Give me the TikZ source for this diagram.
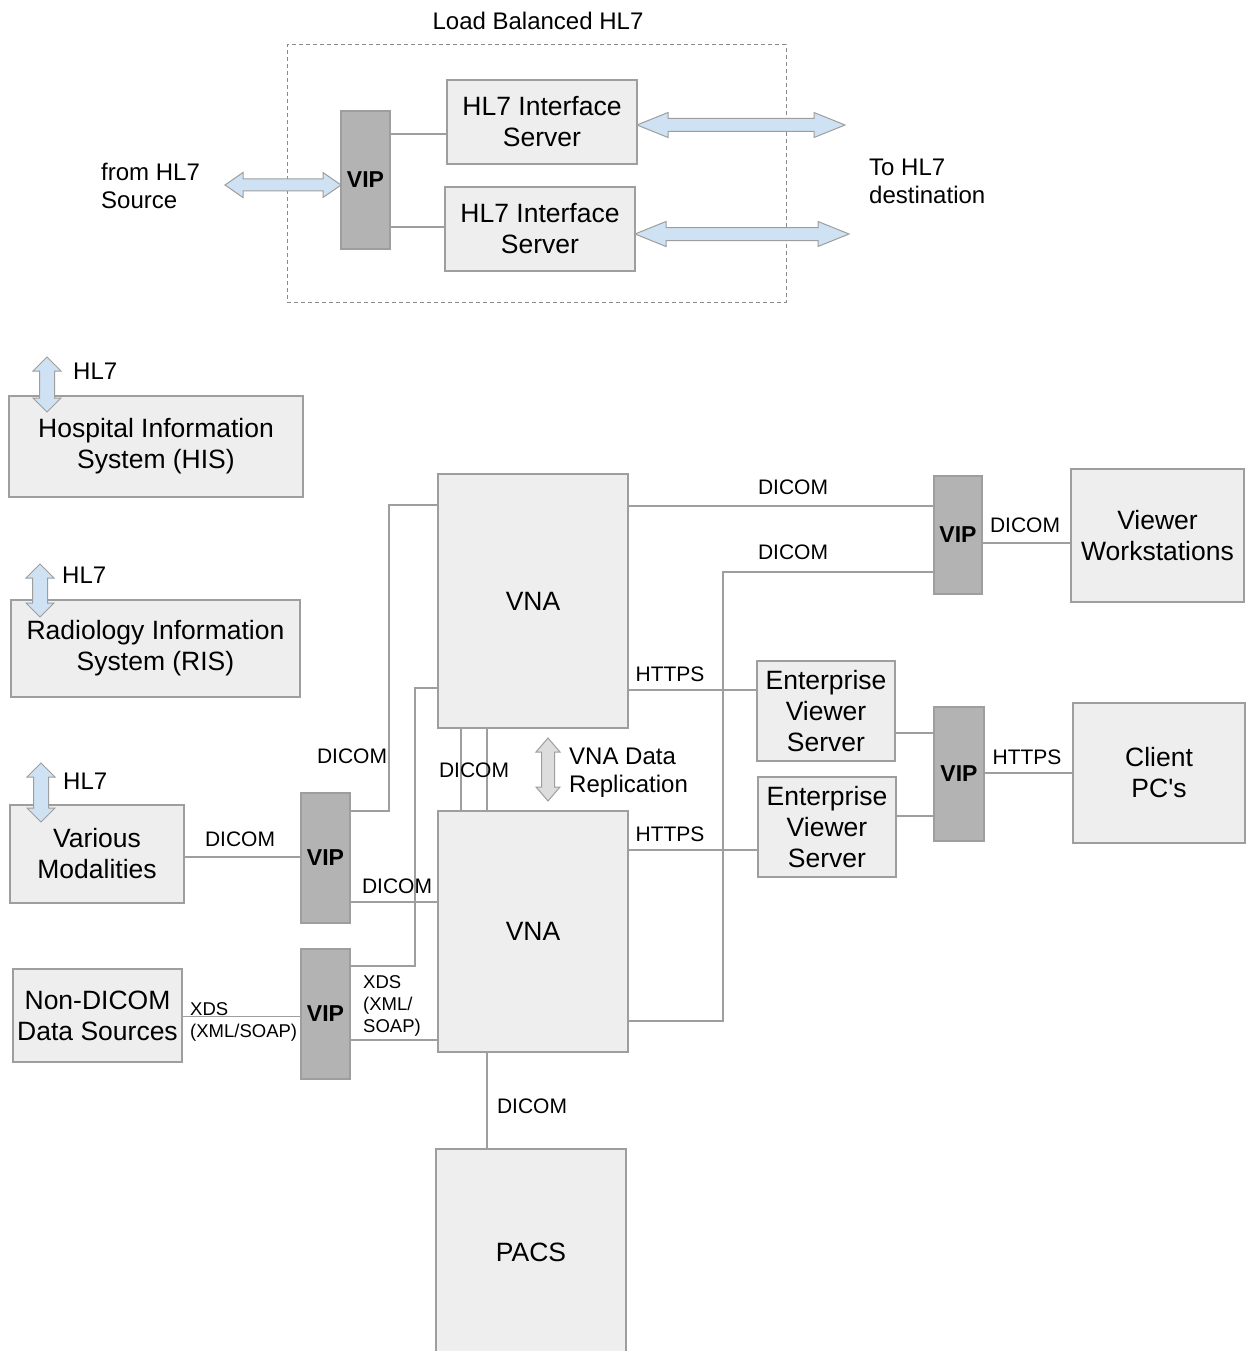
\documentclass[tikz,border=0pt]{standalone}
\usepackage{fontspec}
\setmainfont{Liberation Sans}
\definecolor{boxfill}{HTML}{EEEEEE}
\definecolor{boxline}{HTML}{9E9E9E}
\definecolor{vipfill}{HTML}{B3B3B3}
\definecolor{arrowblue}{HTML}{CFE2F3}
\definecolor{arrowgray}{HTML}{DDDDDD}
\definecolor{dashline}{HTML}{8A8A8A}
\newcommand{\hfatarrow}[7]{%
  \draw[#7] (#1,#3) -- ({#1+#4},{#3-#5}) -- ({#1+#4},{#3-#6}) -- ({#2-#4},{#3-#6}) -- ({#2-#4},{#3-#5}) -- (#2,#3)
   -- ({#2-#4},{#3+#5}) -- ({#2-#4},{#3+#6}) -- ({#1+#4},{#3+#6}) -- ({#1+#4},{#3+#5}) -- cycle;}
\newcommand{\vfatarrow}[7]{%
  \draw[#7] (#3,#1) -- ({#3-#5},{#1+#4}) -- ({#3-#6},{#1+#4}) -- ({#3-#6},{#2-#4}) -- ({#3-#5},{#2-#4}) -- (#3,#2)
   -- ({#3+#5},{#2-#4}) -- ({#3+#6},{#2-#4}) -- ({#3+#6},{#1+#4}) -- ({#3+#5},{#1+#4}) -- cycle;}
\begin{document}
\begin{tikzpicture}[x=1pt,y=-1pt,
  box/.style={draw=boxline, fill=boxfill, line width=1.2pt, inner sep=0pt, align=center,
     font=\fontsize{26.5}{31}\selectfont},
  vip/.style={draw=boxline, fill=vipfill, line width=1.2pt, inner sep=0pt,
     font=\fontsize{23}{27}\selectfont\bfseries},
  conn/.style={draw=boxline, line width=1.2pt},
  lbl/.style={inner sep=0pt, font=\fontsize{21}{25}\selectfont},
  biglbl/.style={inner sep=0pt, align=left, font=\fontsize{24}{28}\selectfont},
  smalllbl/.style={inner sep=0pt, align=left, font=\fontsize{18.5}{22}\selectfont},
  bluearrow/.style={draw=boxline, fill=arrowblue, line width=1pt, line join=miter},
  grayarrow/.style={draw=boxline, fill=arrowgray, line width=1pt, line join=miter}
]
\useasboundingbox (0,0) rectangle (1246,1351);
\fill[white] (0,0) rectangle (1246,1351);

% ---------- Load balanced HL7 ----------
\node[biglbl] (lbtitle) at (538,21) {Load Balanced HL7};
\node[draw=dashline, line width=1pt, dash pattern=on 4pt off 3pt, minimum width=499, minimum height=257, inner sep=0pt] (lb) at (536.5,173.5) {};
\node[vip, minimum width=49, minimum height=138] (vipT) at (365.5,180) {VIP};
\node[box, minimum width=190, minimum height=84] (hl7s1) at (542,122) {HL7 Interface\\Server};
\node[box, minimum width=190, minimum height=84] (hl7s2) at (540,229) {HL7 Interface\\Server};
\draw[conn] (vipT.east |- 0,134) -- (hl7s1.west |- 0,134);
\draw[conn] (vipT.east |- 0,227) -- (hl7s2.west |- 0,227);
\hfatarrow{225}{341}{185}{18}{12.5}{6}{bluearrow}
\hfatarrow{637}{845}{125}{31}{12.5}{6.5}{bluearrow}
\hfatarrow{635}{849}{234}{31}{12.5}{6.5}{bluearrow}
\node[biglbl, anchor=west] (fromsrc) at (101,186) {from HL7\\Source};
\node[biglbl, anchor=west] (todest) at (869,181) {To HL7\\destination};

% ---------- left systems ----------
\node[box, minimum width=294, minimum height=101] (his) at (156,446.5) {Hospital Information\\System (HIS)};
\node[box, minimum width=289, minimum height=97] (ris) at (155.5,648.5) {Radiology Information\\System (RIS)};
\node[box, minimum width=174, minimum height=98] (mod) at (97,854) {Various\\Modalities};
\node[box, minimum width=169, minimum height=93] (nond) at (97.5,1015.5) {Non-DICOM\\Data Sources};
\vfatarrow{357}{412}{47}{14}{14}{7.5}{bluearrow}
\vfatarrow{564}{617}{40}{14}{14}{7.5}{bluearrow}
\vfatarrow{763}{822}{41}{14}{14}{7.5}{bluearrow}
\node[biglbl, anchor=west] (hl7a) at (73,371) {HL7};
\node[biglbl, anchor=west] (hl7b) at (62,575) {HL7};
\node[biglbl, anchor=west] (hl7c) at (63,781) {HL7};

% ---------- VIPs left ----------
\node[vip, minimum width=49, minimum height=130] (vipM) at (325.5,858) {VIP};
\node[vip, minimum width=49, minimum height=130] (vipN) at (325.5,1014) {VIP};

% ---------- VNA, PACS ----------
\node[box, minimum width=190, minimum height=254] (vna1) at (533,601) {VNA};
\node[box, minimum width=190, minimum height=241] (vna2) at (533,931.5) {VNA};
\node[box, minimum width=190, minimum height=206] (pacs) at (531,1252) {PACS};

% ---------- right side ----------
\node[vip, minimum width=48, minimum height=118] (vipR1) at (958,535) {VIP};
\node[box, minimum width=173, minimum height=133] (view) at (1157.5,535.5) {Viewer\\Workstations};
\node[box, minimum width=138, minimum height=100] (evs1) at (826,711) {Enterprise\\Viewer\\Server};
\node[box, minimum width=138, minimum height=100] (evs2) at (827,827) {Enterprise\\Viewer\\Server};
\node[vip, minimum width=50, minimum height=134] (vipR2) at (959,774) {VIP};
\node[box, minimum width=172, minimum height=140] (client) at (1159,773) {Client\\PC\textquotesingle s};

% ---------- connectors ----------
\draw[conn] (mod.east |- 0,857) -- (vipM.west |- 0,857);
\draw[conn] (vipM.east |- 0,811) -| (389,505) -- (vna1.west |- 0,505);
\draw[conn] (vipM.east |- 0,902) -- (vna2.west |- 0,902);
\draw[conn] (nond.east |- 0,1016.5) -- (vipN.west |- 0,1016.5);
\draw[conn] (vipN.east |- 0,966) -| (415,688) -- (vna1.west |- 0,688);
\draw[conn] (vipN.east |- 0,1040) -- (vna2.west |- 0,1040);
\draw[conn] (vna1.south -| 461,0) -- (vna2.north -| 461,0);
\draw[conn] (vna1.south -| 487,0) -- (vna2.north -| 487,0);
\draw[conn] (vna1.east |- 0,506) -- (vipR1.west |- 0,506);
\draw[conn] (vna2.east |- 0,1021) -| (723,572) -- (vipR1.west |- 0,572);
\draw[conn] (vipR1.east |- 0,543) -- (view.west |- 0,543);
\draw[conn] (vna1.east |- 0,690) -- (evs1.west |- 0,690);
\draw[conn] (vna2.east |- 0,850) -- (evs2.west |- 0,850);
\draw[conn] (evs1.east |- 0,733) -- (vipR2.west |- 0,733);
\draw[conn] (evs2.east |- 0,816) -- (vipR2.west |- 0,816);
\draw[conn] (vipR2.east |- 0,773) -- (client.west |- 0,773);
\draw[conn] (vna2.south -| 487,0) -- (pacs.north -| 487,0);

\vfatarrow{738}{801}{548}{14}{12}{6.5}{grayarrow}
\node[biglbl, anchor=west] (repl) at (569,773) {VNA Data\\Replication};

% ---------- labels ----------
\node[lbl] (l1) at (240,839) {DICOM};
\node[lbl] (l2) at (352,756) {DICOM};
\node[lbl] (l3) at (397,886) {DICOM};
\node[lbl] (l4) at (474,770) {DICOM};
\node[smalllbl, anchor=west] (l5) at (190,1022) {XDS\\(XML/SOAP)};
\node[smalllbl, anchor=west] (l6) at (363,1006) {XDS\\(XML/\\SOAP)};
\node[lbl] (l7) at (793,487) {DICOM};
\node[lbl] (l8) at (793,552) {DICOM};
\node[lbl] (l9) at (1025,525) {DICOM};
\node[lbl] (l10) at (670,674) {HTTPS};
\node[lbl] (l11) at (670,834) {HTTPS};
\node[lbl] (l12) at (1027,757) {HTTPS};
\node[lbl] (l13) at (532,1106) {DICOM};
\end{tikzpicture}
\end{document}
